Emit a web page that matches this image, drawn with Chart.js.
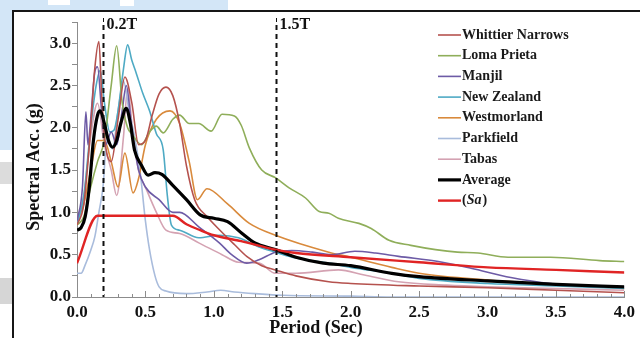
<!DOCTYPE html>
<html>
<head>
<meta charset="utf-8">
<title>Response spectra</title>
<script src="https://cdn.jsdelivr.net/npm/chart.js@4.4.0/dist/chart.umd.min.js"></script>
<style>
  html, body { margin: 0; padding: 0; background: #fff; }
  #wrap { position: relative; width: 640px; height: 338px; overflow: hidden; background: #fff; }
  .patch { position: absolute; }
  #frame { position: absolute; left: 12px; top: 10px; width: 700px; height: 400px;
           border-left: 2px solid #161616; border-top: 2px solid #161616; background: #fff; }
  #chart { position: absolute; left: 0; top: 0; }
</style>
</head>
<body>
<div id="wrap">
  <div class="patch" style="left:0;top:0;width:228px;height:12px;background:#d3e6f7"></div>
  <div class="patch" style="left:48px;top:0;width:22px;height:5px;background:#fff"></div>
  <div class="patch" style="left:120px;top:0;width:14px;height:6px;background:#fff"></div>
  <div class="patch" style="left:0;top:0;width:14px;height:150px;background:#d3e6f7"></div>
  <div class="patch" style="left:0;top:162px;width:12px;height:22px;background:#dcdcdc"></div>
  <div class="patch" style="left:0;top:278px;width:12px;height:26px;background:#d6d6d6"></div>
  <div id="frame"></div>
  <canvas id="chart" width="640" height="338"></canvas>
</div>
<script>
const FONT = '"Liberation Serif", "Times New Roman", serif';

// periods (sec) and spectral accelerations (g) for each record
const whittierPeriod = [0, 0.05, 0.1, 0.13, 0.16, 0.18, 0.2, 0.25, 0.3, 0.35, 0.4, 0.45, 0.5, 0.55, 0.6, 0.65, 0.7, 0.75, 0.8, 0.86, 0.95, 1.05, 1.15, 1.24, 1.35, 1.45, 1.6, 1.84, 2.0, 2.5, 3.0, 3.5, 4.0];
const whittierAcc    = [0.85, 1.1, 2.0, 2.7, 3.02, 2.4, 1.9, 1.6, 2.1, 2.6, 2.3, 1.8, 1.85, 2.15, 2.4, 2.48, 2.38, 2.05, 1.55, 1.15, 0.95, 0.78, 0.62, 0.48, 0.37, 0.32, 0.25, 0.18, 0.16, 0.13, 0.11, 0.08, 0.05];

const lomaPeriod = [0, 0.05, 0.1, 0.15, 0.2, 0.25, 0.29, 0.33, 0.37, 0.4, 0.47, 0.53, 0.58, 0.63, 0.7, 0.75, 0.82, 0.89, 0.98, 1.06, 1.15, 1.2, 1.26, 1.35, 1.45, 1.55, 1.67, 1.77, 1.84, 1.91, 2.06, 2.15, 2.28, 2.44, 2.62, 2.78, 2.93, 3.15, 3.46, 3.82, 4.0];
const lomaAcc    = [0.85, 0.95, 1.3, 1.6, 1.85, 2.5, 2.97, 2.3, 2.0, 1.93, 1.8, 1.95, 2.02, 1.94, 2.1, 2.15, 2.05, 2.05, 1.96, 2.16, 2.14, 2.03, 1.76, 1.5, 1.41, 1.29, 1.17, 1.01, 0.99, 0.93, 0.87, 0.81, 0.67, 0.61, 0.56, 0.53, 0.52, 0.47, 0.47, 0.43, 0.42];

const manjilPeriod = [0, 0.04, 0.065, 0.08, 0.1, 0.13, 0.15, 0.18, 0.21, 0.25, 0.29, 0.33, 0.36, 0.4, 0.45, 0.5, 0.6, 0.7, 0.75, 0.89, 1.04, 1.13, 1.24, 1.33, 1.45, 1.57, 1.72, 1.86, 2.03, 2.18, 2.35, 2.64, 2.88, 3.17, 3.46, 4.0];
const manjilAcc    = [0.9, 1.3, 2.19, 1.8, 2.1, 2.66, 2.72, 2.2, 1.8, 1.95, 1.8, 2.2, 2.5, 2.0, 1.5, 1.3, 1.15, 1.0, 1.0, 0.83, 0.64, 0.5, 0.4, 0.44, 0.53, 0.55, 0.53, 0.5, 0.54, 0.52, 0.48, 0.42, 0.34, 0.23, 0.16, 0.12];

const zealandPeriod = [0, 0.05, 0.1, 0.14, 0.17, 0.2, 0.24, 0.27, 0.3, 0.34, 0.37, 0.4, 0.43, 0.48, 0.53, 0.58, 0.63, 0.66, 0.69, 0.75, 0.89, 1.04, 1.18, 1.33, 1.45, 1.6, 1.84, 2.0, 2.3, 2.5, 3.0, 3.5, 4.0];
const zealandAcc    = [0.85, 1.2, 2.0, 2.5, 2.68, 2.3, 1.95, 1.97, 2.2, 2.7, 2.98, 2.8, 2.66, 2.41, 2.2, 1.93, 1.74, 1.2, 0.85, 0.79, 0.7, 0.73, 0.7, 0.59, 0.53, 0.46, 0.4, 0.35, 0.28, 0.22, 0.16, 0.13, 0.1];

const westmorlandPeriod = [0, 0.05, 0.1, 0.15, 0.2, 0.25, 0.3, 0.35, 0.41, 0.45, 0.5, 0.58, 0.68, 0.75, 0.82, 0.88, 0.95, 1.1, 1.26, 1.45, 1.84, 2.0, 2.3, 2.5, 3.0, 3.5, 4.0];
const westmorlandAcc    = [0.9, 1.1, 1.5, 1.85, 1.85, 1.6, 1.3, 1.7, 1.23, 1.4, 1.8, 2.1, 2.2, 2.05, 1.6, 1.15, 1.28, 1.1, 0.87, 0.73, 0.53, 0.47, 0.35, 0.28, 0.2, 0.15, 0.1];

const parkfieldPeriod = [0, 0.03, 0.06, 0.1, 0.13, 0.16, 0.19, 0.22, 0.26, 0.3, 0.34, 0.38, 0.42, 0.46, 0.5, 0.53, 0.57, 0.6, 0.65, 0.8, 0.95, 1.05, 1.15, 1.3, 1.5, 2.0, 2.3, 4.0];
const parkfieldAcc    = [0.28, 0.28, 0.38, 0.55, 0.71, 1.0, 1.3, 1.9, 1.75, 2.2, 2.55, 2.2, 1.9, 1.5, 0.9, 0.56, 0.25, 0.12, 0.07, 0.04, 0.06, 0.08, 0.06, 0.04, 0.02, 0.01, 0.0, 0.0];

const tabasPeriod = [0, 0.05, 0.1, 0.15, 0.2, 0.25, 0.29, 0.34, 0.37, 0.41, 0.45, 0.51, 0.58, 0.65, 0.75, 0.89, 1.06, 1.18, 1.33, 1.45, 1.6, 1.91, 2.1, 2.35, 2.7, 3.0, 3.5, 4.0];
const tabasAcc    = [0.9, 1.2, 1.9, 2.29, 1.8, 1.5, 1.2, 1.9, 2.47, 1.9, 1.5, 1.26, 1.0, 0.79, 0.75, 0.64, 0.5, 0.41, 0.4, 0.28, 0.28, 0.32, 0.26, 0.18, 0.14, 0.12, 0.1, 0.08];

const averagePeriod = [0, 0.03, 0.06, 0.09, 0.12, 0.15, 0.17, 0.2, 0.23, 0.26, 0.29, 0.32, 0.36, 0.39, 0.42, 0.47, 0.52, 0.57, 0.62, 0.7, 0.8, 0.9, 1.0, 1.1, 1.2, 1.3, 1.45, 1.6, 1.8, 2.0, 2.3, 2.5, 3.0, 3.5, 4.0];
const averageAcc    = [0.79, 0.82, 0.95, 1.3, 1.85, 2.15, 2.2, 2.05, 1.85, 1.77, 1.85, 2.05, 2.23, 2.05, 1.74, 1.56, 1.44, 1.47, 1.45, 1.32, 1.15, 0.97, 0.93, 0.89, 0.76, 0.64, 0.56, 0.47, 0.40, 0.37, 0.28, 0.24, 0.19, 0.15, 0.12];

// design spectrum
const designPeriod = [0, 0.15, 0.7, 0.8, 0.9, 1.0, 1.2, 1.45, 1.6, 2.0, 2.5, 3.0, 3.5, 4.0];
const designAcc    = [0.40, 0.96, 0.96, 0.86, 0.79, 0.73, 0.66, 0.56, 0.52, 0.47, 0.41, 0.35, 0.32, 0.29];

// vertical reference periods
const markerPeriods = [0.19, 1.455];
const markerLabels = ['0.2T', '1.5T'];

function toPoints(periods, values) {
    return periods.map((t, i) => ({ x: t, y: values[i] }));
}

function record(label, periods, values, color, width, order) {
    return {
        label: label,
        data: toPoints(periods, values),
        borderColor: color,
        borderWidth: width,
        pointRadius: 0,
        cubicInterpolationMode: 'monotone',
        fill: false,
        order: order
    };
}

const datasets = [
    record('Whittier Narrows', whittierPeriod, whittierAcc, '#b5524e', 1.6, 5),
    record('Loma Prieta', lomaPeriod, lomaAcc, '#8fae5a', 1.6, 5),
    record('Manjil', manjilPeriod, manjilAcc, '#6d5ba6', 1.6, 5),
    record('New Zealand', zealandPeriod, zealandAcc, '#4eaac4', 1.6, 5),
    record('Westmorland', westmorlandPeriod, westmorlandAcc, '#d98a3c', 1.6, 5),
    record('Parkfield', parkfieldPeriod, parkfieldAcc, '#a9bcdc', 1.6, 5),
    record('Tabas', tabasPeriod, tabasAcc, '#d4a2b2', 1.6, 5),
    record('Average', averagePeriod, averageAcc, '#000000', 3.2, 1),
    record('(Sa)', designPeriod, designAcc, '#e02424', 2.4, 0)
];

function isMajor(v) {
    return Math.abs(v * 2 - Math.round(v * 2)) < 1e-6;
}

// x ticks point up into the plot, longer at the labelled ones
const insideTicks = {
    id: 'insideTicks',
    afterDraw(chart) {
        const ctx = chart.ctx;
        const x = chart.scales.x;
        const bottom = chart.chartArea.bottom;
        ctx.save();
        ctx.strokeStyle = '#8c8c8c';
        ctx.lineWidth = 1;
        x.ticks.forEach(t => {
            const px = Math.round(x.getPixelForValue(t.value)) + 0.5;
            ctx.beginPath();
            ctx.moveTo(px, bottom);
            ctx.lineTo(px, bottom - (isMajor(t.value) ? 6 : 3));
            ctx.stroke();
        });
        ctx.restore();
    }
};

// dashed period markers with their labels
const markerPlugin = {
    id: 'markers',
    afterDatasetsDraw(chart) {
        const ctx = chart.ctx;
        const x = chart.scales.x;
        const bottom = chart.chartArea.bottom;
        ctx.save();
        ctx.strokeStyle = '#111';
        ctx.fillStyle = '#111';
        markerPeriods.forEach((t, i) => {
            const px = Math.round(x.getPixelForValue(t)) + 0.5;
            ctx.lineWidth = 1;
            ctx.setLineDash([]);
            ctx.beginPath();
            ctx.moveTo(px, 18);
            ctx.lineTo(px, 22);
            ctx.stroke();
            ctx.lineWidth = 2;
            ctx.setLineDash([5, 4]);
            ctx.beginPath();
            ctx.moveTo(px, 25);
            ctx.lineTo(px, bottom);
            ctx.stroke();
            ctx.font = 'bold 16px ' + FONT;
            ctx.textAlign = 'left';
            ctx.textBaseline = 'alphabetic';
            ctx.fillText(markerLabels[i], px + 3, 29);
        });
        ctx.restore();
    }
};

// legend drawn inside the plot, top right
const legendPlugin = {
    id: 'insideLegend',
    afterDraw(chart) {
        const ctx = chart.ctx;
        ctx.save();
        ctx.textBaseline = 'middle';
        ctx.textAlign = 'left';
        chart.data.datasets.forEach((ds, i) => {
            const y = 35 + i * 20.7;
            ctx.strokeStyle = ds.borderColor;
            ctx.lineWidth = ds.borderWidth > 2 ? ds.borderWidth : 1.6;
            ctx.beginPath();
            ctx.moveTo(438, y);
            ctx.lineTo(461, y);
            ctx.stroke();
            ctx.fillStyle = '#1a1a1a';
            const m = ds.label.match(/^\((.*)\)$/);
            if (m) {
                let tx = 462;
                ctx.font = 'bold 14px ' + FONT;
                ctx.fillText('(', tx, y);
                tx += ctx.measureText('(').width;
                ctx.font = 'italic bold 14px ' + FONT;
                ctx.fillText(m[1], tx, y);
                tx += ctx.measureText(m[1]).width + 1;
                ctx.font = 'bold 14px ' + FONT;
                ctx.fillText(')', tx, y);
            } else {
                ctx.font = 'bold 14px ' + FONT;
                ctx.fillText(ds.label, 462, y);
            }
        });
        ctx.restore();
    }
};

// axis titles
const titlePlugin = {
    id: 'axisTitles',
    afterDraw(chart) {
        const ctx = chart.ctx;
        ctx.save();
        ctx.fillStyle = '#111';
        ctx.font = 'bold 18px ' + FONT;
        ctx.textAlign = 'center';
        ctx.textBaseline = 'alphabetic';
        ctx.fillText('Period (Sec)', 316, 333);
        ctx.translate(39, 167);
        ctx.rotate(-Math.PI / 2);
        ctx.fillText('Spectral Acc. (g)', 0, 0);
        ctx.restore();
    }
};

new Chart(document.getElementById('chart'), {
    type: 'line',
    data: { datasets: datasets },
    options: {
        responsive: false,
        animation: false,
        devicePixelRatio: 1,
        layout: { padding: { left: 0, top: 22, right: 13, bottom: 0 } },
        plugins: {
            legend: { display: false },
            tooltip: { enabled: false }
        },
        scales: {
            x: {
                type: 'linear',
                min: 0,
                max: 4,
                afterFit(scale) { scale.height = 41; },
                border: { color: '#8c8c8c', width: 1 },
                grid: { drawOnChartArea: false, drawTicks: false },
                ticks: {
                    stepSize: 0.1,
                    autoSkip: false,
                    maxRotation: 0,
                    padding: 5,
                    color: '#111',
                    font: { family: FONT, size: 17, weight: 'bold' },
                    callback: v => isMajor(v) ? v.toFixed(1) : ''
                }
            },
            y: {
                min: 0,
                max: 3.25,
                afterFit(scale) { scale.width = 77; },
                border: { color: '#8c8c8c', width: 1 },
                grid: { drawOnChartArea: false, tickLength: 5, color: '#8c8c8c' },
                ticks: {
                    stepSize: 0.25,
                    autoSkip: false,
                    padding: 1,
                    color: '#111',
                    font: { family: FONT, size: 17, weight: 'bold' },
                    callback: v => isMajor(v) && v < 3.2 ? v.toFixed(1) : ''
                }
            }
        }
    },
    plugins: [insideTicks, markerPlugin, legendPlugin, titlePlugin]
});
</script>
</body>
</html>
